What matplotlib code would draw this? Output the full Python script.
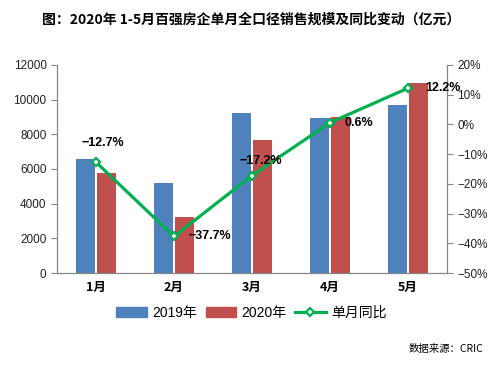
import numpy as np
import matplotlib
matplotlib.use("Agg")
import matplotlib.pyplot as plt
from matplotlib.lines import Line2D
from matplotlib.patches import Patch

plt.rcParams['font.family'] = ['Liberation Sans', 'Noto Sans CJK SC', 'DejaVu Sans']

months = ['1月', '2月', '3月', '4月', '5月']
sales_2019 = [6600, 5190, 9230, 8940, 9690]
sales_2020 = [5770, 3230, 7670, 9000, 10950]
yoy = [-12.7, -37.7, -17.2, 0.6, 12.2]

blue = '#4F81BD'
red = '#C0504D'
green = '#00B050'

fig = plt.figure(figsize=(5.03, 3.65), dpi=100)
ax = fig.add_axes([0.1133, 0.252, 0.7754, 0.570])
ax2 = ax.twinx()

x = np.arange(len(months))
w = 0.245
ax.bar(x - w / 2 - 0.012, sales_2019, w, color=blue, zorder=2)
ax.bar(x + w / 2 + 0.012, sales_2020, w, color=red, zorder=2)

ax.set_xlim(-0.5, 4.5)
ax.set_ylim(0, 12000)
ax.set_yticks(np.arange(0, 12001, 2000))
ax.set_xticks(x)
ax.set_xticklabels(months, fontsize=9, fontweight='bold', family=['Noto Sans CJK SC'])
ax.tick_params(axis='x', length=0, pad=6)
ax.tick_params(axis='y', labelsize=8.5, length=4, color='#868686', labelcolor='#222222')

ax2.plot(x, yoy, color=green, lw=2.3, marker='D', ms=4.5,
         mfc='white', mec=green, mew=1.6, zorder=5)
ax2.set_ylim(-50, 20)
ax2.set_yticks(np.arange(-50, 21, 10))
ax2.set_yticklabels([f'{v}%'.replace('-', '\u2212') for v in range(-50, 21, 10)])
ax2.tick_params(axis='y', labelsize=8.5, length=4, color='#868686', labelcolor='#222222')

for a in (ax, ax2):
    a.spines['top'].set_visible(False)
    for s in ('left', 'right', 'bottom'):
        a.spines[s].set_color('#868686')
ax.set_zorder(ax2.get_zorder() - 1)
ax2.patch.set_visible(False)
ax.patch.set_visible(False)

# data labels
offsets = [(-0.18, 6.5), (0.18, 0), (-0.16, 5), (0.19, 0), (0.22, 0)]
for xi, v, (dx, dy) in zip(x, yoy, offsets):
    ax2.text(xi + dx, v + dy, f'{v:.1f}%'.replace('-', '\u2212'), fontsize=9,
             fontweight='bold', ha='left', va='center', color='black', zorder=6)

fig.text(0.5, 0.945, '图：2020年 1-5月百强房企单月全口径销售规模及同比变动（亿元）',
         ha='center', va='center', fontsize=10, fontweight='bold',
         family=['Noto Sans CJK SC'])

handles = [Patch(color=blue, label='2019年'), Patch(color=red, label='2020年'),
           Line2D([], [], color=green, lw=2.3, marker='D', ms=4.5, mfc='white',
                  mec=green, mew=1.6, label='单月同比')]
fig.legend(handles=handles, loc='center', bbox_to_anchor=(0.5, 0.142), ncol=3,
           frameon=False, handlelength=2.2, handleheight=0.7,
           columnspacing=0.6, handletextpad=0.4,
           prop={'family': ['Liberation Sans', 'Noto Sans CJK SC'], 'size': 10})

fig.text(0.96, 0.045, '数据来源：CRIC', ha='right', va='center', fontsize=7.5,
         family=['Noto Sans CJK SC'])

fig.savefig('out.png', dpi=100)
